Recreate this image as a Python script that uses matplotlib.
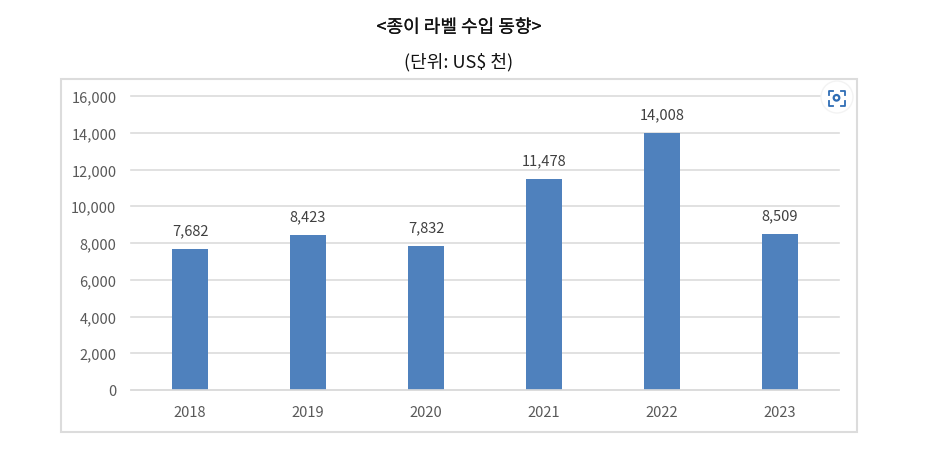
import matplotlib
matplotlib.use('Agg')
import matplotlib.pyplot as plt
import matplotlib.patheffects as pe
from matplotlib.patches import Rectangle, Circle

plt.rcParams['font.family'] = ['Noto Sans CJK KR', 'DejaVu Sans']

years = ['2018', '2019', '2020', '2021', '2022', '2023']
values = [7682, 8423, 7832, 11478, 14008, 8509]
yticks = [0, 2000, 4000, 6000, 8000, 10000, 12000, 14000, 16000]
title = '<종이 라벨 수입 동향>'
unit = '(단위: US$ 천)'

W, H = 946, 464
fig = plt.figure(figsize=(W / 100, H / 100), dpi=100)

# outer chart frame, has to sit under the axes
fig.add_artist(Rectangle((61 / W, 1 - 433 / H), 796 / W, 353 / H, transform=fig.transFigure,
                         facecolor='white', edgecolor='#dcdcdc', linewidth=1.5, zorder=-1))

ax = fig.add_axes([131 / W, 1 - 391 / H, 708 / W, 294 / H])
ax.patch.set_alpha(0)
ax.set_axisbelow(True)
ax.bar(range(6), values, width=0.31, color='#4f81bd')
ax.set_xlim(-0.5, 5.5)
ax.set_ylim(0, 16000)
ax.set_xticks(range(6), years)
ax.set_yticks(yticks, [f'{v:,}' for v in yticks])
ax.grid(axis='y', color='#dcdcdc', linewidth=1.2, clip_on=False)
ax.tick_params(length=0, labelsize=10.5, labelcolor='#595959')
ax.tick_params(axis='x', pad=11)
ax.tick_params(axis='y', pad=10.5)
for s in ['top', 'left', 'right']:
    ax.spines[s].set_visible(False)
ax.spines['bottom'].set_color('#dcdcdc')
ax.spines['bottom'].set_linewidth(1.2)

for i, v in enumerate(values):
    ax.annotate(f'{v:,}', (i, v), xytext=(0, 8.5), textcoords='offset points',
                ha='center', va='bottom', fontsize=10.5, color='#404040')

fig.text(459 / W, 1 - 28.5 / H, title, ha='center', va='center', fontsize=13, color='#111111',
         path_effects=[pe.withStroke(linewidth=0.15, foreground='#111111')])
fig.text(459 / W, 1 - 62 / H, unit, ha='center', va='center', fontsize=13, color='#111111')

# image-search button over the top right corner
btn = fig.add_axes([0, 0, 1, 1], zorder=5)
btn.set_xlim(0, W)
btn.set_ylim(H, 0)
btn.axis('off')
btn.add_patch(Circle((837, 98), 16, facecolor='white', edgecolor='#f3f3f3', linewidth=1))
blue = '#2f6db5'
for sx, sy in [(-1, -1), (1, -1), (-1, 1), (1, 1)]:
    btn.plot([836.5 + sx * 8, 836.5 + sx * 8, 836.5 + sx * 4],
             [99 + sy * 3, 99 + sy * 7.5, 99 + sy * 7.5],
             color=blue, linewidth=1.3, solid_joinstyle='round')
btn.add_patch(Circle((836.5, 98.8), 2.8, facecolor='none', edgecolor=blue, linewidth=1.6))

fig.savefig('out.png', dpi=100)
